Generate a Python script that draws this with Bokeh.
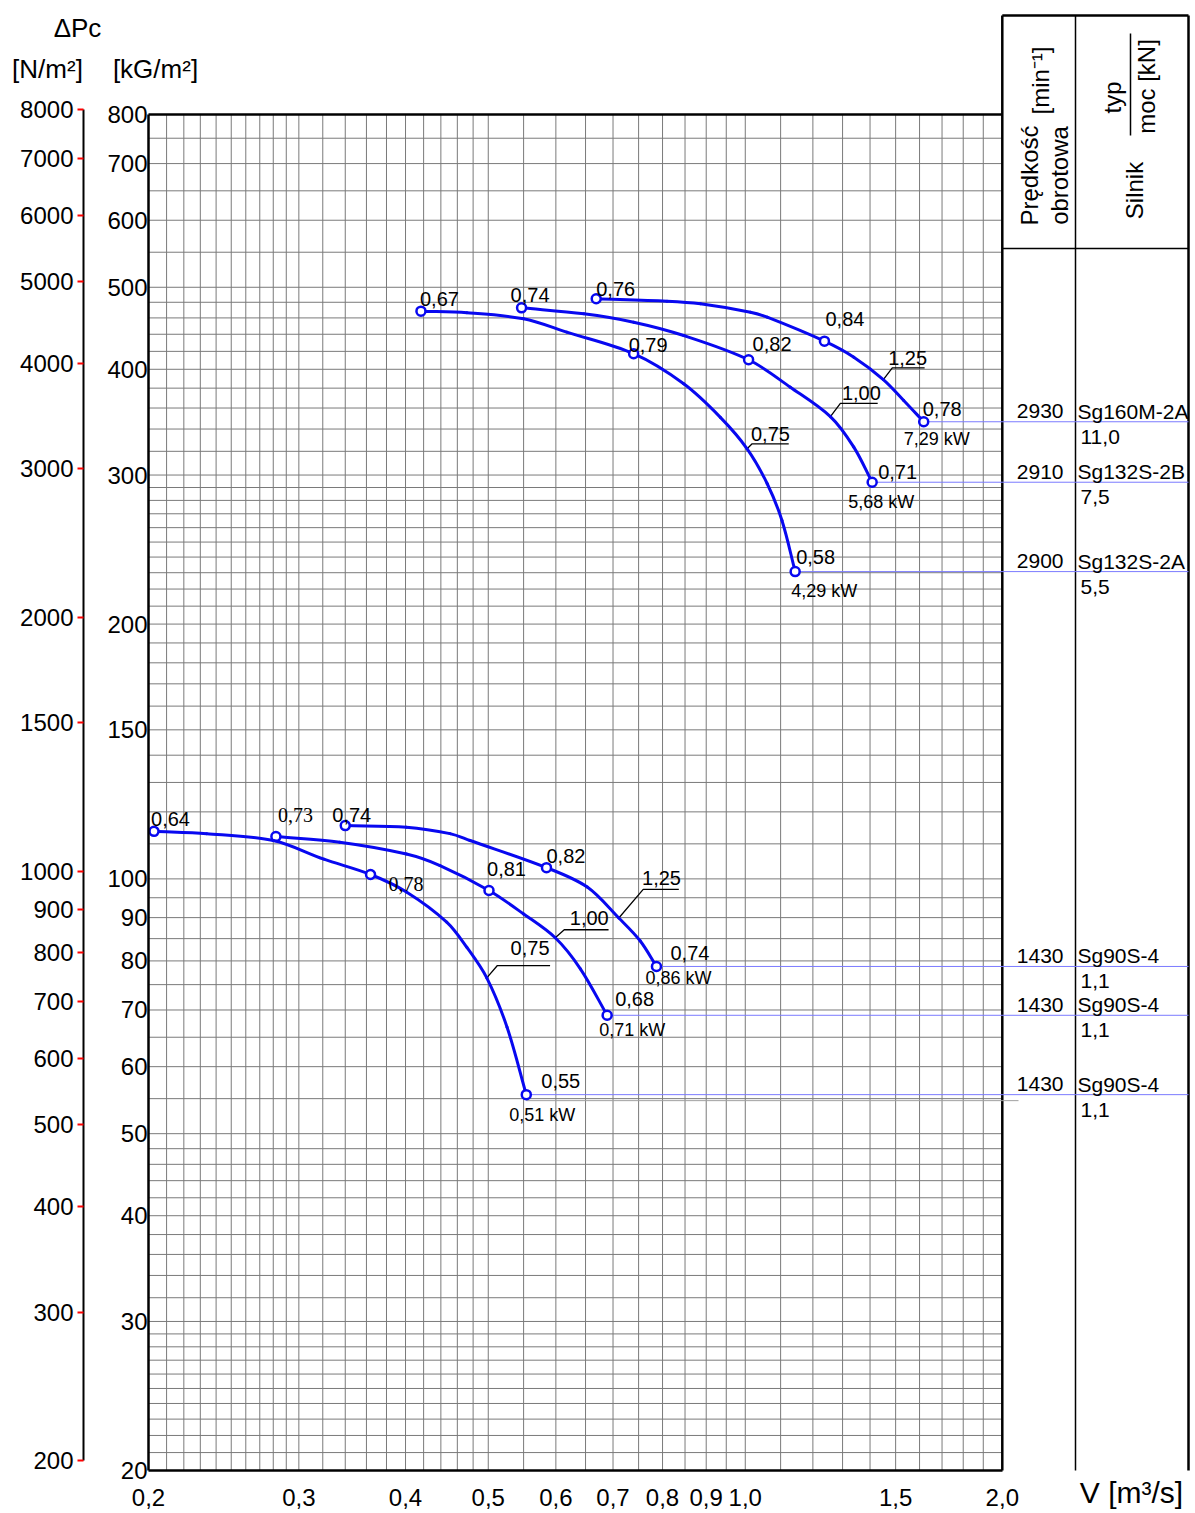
import math
from bokeh.plotting import figure
from bokeh.models import ColumnDataSource, LogAxis, FixedTicker, Range1d, LogScale
from bokeh.core.properties import value
from bokeh.embed import file_html
from bokeh.resources import INLINE

# ---------------- chart values (V [m3/s], dPc [kG/m2]) ----------------
V_2930 = [0.669, 0.810, 0.886, 1.014, 1.061, 1.238, 1.340, 1.451, 1.533, 1.618]
P_2930 = [484.6, 481.4, 478.0, 467.2, 460.9, 431.8, 413.4, 389.0, 367.5, 346.8]
V_2910 = [0.547, 0.647, 0.740, 0.847, 1.009, 1.129, 1.258, 1.340, 1.408]
P_2910 = [472.8, 465.2, 454.7, 438.5, 410.5, 381.0, 351.7, 323.7, 294.2]
V_2900 = [0.417, 0.472, 0.550, 0.618, 0.740, 0.847, 0.935, 1.005, 1.061, 1.104, 1.144]
P_2900 = [468.5, 466.5, 458.9, 442.5, 417.3, 384.5, 351.0, 322.2, 293.0, 265.1, 230.7]
V_1430_125 = [0.340, 0.401, 0.451, 0.476, 0.585, 0.653, 0.711, 0.753, 0.787]
P_1430_125 = [115.6, 115.1, 113.1, 111.0, 103.1, 97.8, 89.9, 84.5, 78.8]
V_1430_100 = [0.282, 0.335, 0.401, 0.439, 0.501, 0.550, 0.599, 0.641, 0.689]
P_1430_100 = [112.2, 110.5, 107.0, 103.7, 96.9, 90.9, 85.2, 78.3, 69.0]
V_1430_075 = [0.203, 0.234, 0.280, 0.321, 0.364, 0.401, 0.447, 0.472, 0.498, 0.526, 0.554]
P_1430_075 = [113.8, 113.1, 111.0, 105.5, 101.2, 96.5, 88.9, 83.0, 76.4, 66.8, 55.6]

CURVE_V = [V_2930, V_2910, V_2900, V_1430_125, V_1430_100, V_1430_075]
CURVE_P = [P_2930, P_2910, P_2900, P_1430_125, P_1430_100, P_1430_075]
MARK_IDX = [[0, 5, -1], [0, 4, -1], [0, 4, -1], [0, 4, -1], [0, 4, -1], [0, 4, -1]]
EFFICIENCY = [["0,76", "0,84", "0,78"], ["0,74", "0,82", "0,71"], ["0,67", "0,79", "0,58"],
              ["0,74", "0,82", "0,74"], ["0,73", "0,81", "0,68"], ["0,64", "0,78", "0,55"]]
SHAFT_KW = ["7,29 kW", "5,68 kW", "4,29 kW", "0,86 kW", "0,71 kW", "0,51 kW"]
WHEEL = ["1,25", "1,00", "0,75", "1,25", "1,00", "0,75"]
WHEEL_IDX = [7, 6, 7, 6, 6, 8]
RPM = ["2930", "2910", "2900", "1430", "1430", "1430"]
MOTOR = ["Sg160M-2A", "Sg132S-2B", "Sg132S-2A", "Sg90S-4", "Sg90S-4", "Sg90S-4"]
MOTOR_KW = ["11,0", "7,5", "5,5", "1,1", "1,1", "1,1"]

V_TICKS = [0.2, 0.3, 0.4, 0.5, 0.6, 0.7, 0.8, 0.9, 1.0, 1.5, 2.0]
V_LABELS = ["0,2", "0,3", "0,4", "0,5", "0,6", "0,7", "0,8", "0,9", "1,0", "1,5", "2,0"]
KG_TICKS = [20, 30, 40, 50, 60, 70, 80, 90, 100, 150, 200, 300, 400, 500, 600, 700, 800]
NM_TICKS = [200, 300, 400, 500, 600, 700, 800, 900, 1000, 1500, 2000, 3000, 4000, 5000, 6000, 7000, 8000]

GRID_V = [0.21, 0.22, 0.23, 0.24, 0.25, 0.26, 0.27, 0.28, 0.29, 0.30, 0.32, 0.34, 0.36, 0.38,
          0.40, 0.42, 0.44, 0.46, 0.48, 0.50, 0.55, 0.60, 0.65, 0.70, 0.75, 0.80, 0.85, 0.90,
          0.95, 1.0, 1.1, 1.2, 1.3, 1.4, 1.5, 1.6, 1.7, 1.8, 1.9]
GRID_P = [21, 22, 23, 24, 25, 26, 27, 28, 29, 30, 32, 34, 36, 38, 40, 42, 44, 46, 48, 50,
          55, 60, 65, 70, 75, 80, 85, 90, 95, 100, 110, 120, 130, 140, 150, 160, 170, 180, 190,
          200, 210, 220, 230, 240, 250, 260, 270, 280, 290, 300, 320, 340, 360, 380, 400, 420,
          440, 460, 480, 500, 550, 600, 650, 700, 750]

# ---------------- layout / style (pixel offsets, text centres) ----------------
EFF_OFF = [[(0, -10), (1, -22), (-1, -13)], [(-11, -13), (4, -16), (6, -10)],
           [(-1, -12), (-5, -9), (1, -15)], [(-13, -11), (0, -12), (14, -13)],
           [(2, -22), (-2, -21), (8, -16)], [(-3, -12), (18, 10), (15, -14)]]
EFF_SERIF = [[0, 0, 0], [0, 0, 0], [0, 0, 0], [0, 0, 0], [1, 0, 0], [0, 1, 0]]
KW_OFF = [(13, 17), (9, 20), (29, 19), (22, 12), (25, 15), (16, 20)]
# knee dx, knee dy, end dx, text dx, text dy (relative to the curve anchor, px)
LEAD = [(9, -11.7, 41.3, 24.3, -22.0), (10, -13.3, 47.3, 31, -24.0), (5, -5, 41.6, 23.3, -15.3),
        (24.4, -28.6, 60, 42.7, -40.3), (9, -8, 53.3, 34, -19.3), (10.6, -12.3, 63.3, 43.3, -30.0)]

SANS = "Liberation Sans"
SERIF = "Liberation Serif"
BLUE = "#0808f0"

W_CANVAS, H_CANVAS = 1195, 1511
X_DEC = 853.8                      # px per decade, V axis
Y_DEC = 1356.0 / math.log10(40.0)  # px per decade, kG/m2 axis
N_DEC = 843.1                      # px per decade, N/m2 axis


def xv(px):
    return 0.2 * 10 ** ((px - 148.0) / X_DEC)


def yv(py):
    return 20.0 * 10 ** ((1470.0 - py) / Y_DEC)


def nv(py):
    return 8000.0 * 10 ** ((109.3 - py) / N_DEC)


def xs(v, d):
    return v * 10 ** (d / X_DEC)


def ys(pv, d):
    return pv * 10 ** (-d / Y_DEC)


def smooth_segments(V, P):
    """Cubic Bezier pieces through the read points (chord-length tangents, screen space)."""
    u = [math.log10(v) * X_DEC for v in V]
    w = [math.log10(q) * Y_DEC for q in P]
    n = len(u)
    d = [math.hypot(u[i + 1] - u[i], w[i + 1] - w[i]) for i in range(n - 1)]
    mu, mw = [], []
    for i in range(n):
        if i == 0:
            a, b, L = 0, 1, d[0]
        elif i == n - 1:
            a, b, L = n - 2, n - 1, d[-1]
        else:
            a, b, L = i - 1, i + 1, d[i - 1] + d[i]
        mu.append((u[b] - u[a]) / L)
        mw.append((w[b] - w[a]) / L)
    out = dict(x0=[], y0=[], x1=[], y1=[], cx0=[], cy0=[], cx1=[], cy1=[])
    for i in range(n - 1):
        out["x0"].append(V[i]); out["y0"].append(P[i])
        out["x1"].append(V[i + 1]); out["y1"].append(P[i + 1])
        out["cx0"].append(10 ** ((u[i] + mu[i] * d[i] / 3) / X_DEC))
        out["cy0"].append(10 ** ((w[i] + mw[i] * d[i] / 3) / Y_DEC))
        out["cx1"].append(10 ** ((u[i + 1] - mu[i + 1] * d[i] / 3) / X_DEC))
        out["cy1"].append(10 ** ((w[i + 1] - mw[i + 1] * d[i] / 3) / Y_DEC))
    return out


p = figure(x_axis_type="log", y_axis_type="log",
           x_range=Range1d(xv(0), xv(W_CANVAS)), y_range=Range1d(yv(H_CANVAS), yv(0)),
           frame_width=W_CANVAS, frame_height=H_CANVAS, min_border=0,
           output_backend="svg", toolbar_location=None, title=None)
p.grid.visible = False
p.outline_line_color = None
p.background_fill_color = "white"
p.border_fill_color = "white"

p.extra_y_ranges = {"npa": Range1d(nv(H_CANVAS), nv(0))}
p.extra_y_scales = {"npa": LogScale()}

# bottom axis (frame bottom border)
xa = p.xaxis[0]
xa.fixed_location = 20
xa.ticker = FixedTicker(ticks=V_TICKS)
xa.major_label_overrides = {t: l for t, l in zip(V_TICKS, V_LABELS)}
xa.bounds = (0.2, 2.0)
xa.axis_line_color = "black"
xa.axis_line_width = 2.5
xa.major_tick_line_color = None
xa.minor_tick_line_color = None
xa.major_label_standoff = 12
xa.major_label_text_font = SANS
xa.major_label_text_font_size = "24px"
xa.major_label_text_color = "black"

# kG/m2 axis (frame left border)
ya = p.yaxis[0]
ya.fixed_location = 0.2
ya.ticker = FixedTicker(ticks=KG_TICKS)
ya.major_label_overrides = {t: str(t) for t in KG_TICKS}
ya.bounds = (20, 800)
ya.axis_line_color = "black"
ya.axis_line_width = 2.5
ya.major_tick_line_color = None
ya.minor_tick_line_color = None
ya.major_label_standoff = -5
ya.major_label_text_font = SANS
ya.major_label_text_font_size = "24px"
ya.major_label_text_color = "black"

# N/m2 axis
na = LogAxis(y_range_name="npa", ticker=FixedTicker(ticks=NM_TICKS), fixed_location=xv(83))
na.major_label_overrides = {t: str(t) for t in NM_TICKS}
na.bounds = (200, 8000)
na.axis_line_color = "black"
na.axis_line_width = 2
na.major_tick_line_color = "red"
na.major_tick_line_width = 2
na.major_tick_out = 6
na.major_tick_in = 0
na.minor_tick_line_color = None
na.major_label_standoff = 4
na.major_label_text_font = SANS
na.major_label_text_font_size = "24px"
na.major_label_text_color = "black"
p.add_layout(na, "left")

# grid
p.segment(x0=GRID_V, y0=[20] * len(GRID_V), x1=GRID_V, y1=[800] * len(GRID_V),
          line_color="#7a7a7a", line_width=1)
p.segment(x0=[0.2] * len(GRID_P), y0=GRID_P, x1=[2.0] * len(GRID_P), y1=GRID_P,
          line_color="#7a7a7a", line_width=1)

# frame + table lines
T_TOP = yv(15)
T_RIGHT = xv(1188)
T_COL = xv(1075)
p.segment(x0=[0.2, 2.0, 2.0, T_RIGHT, T_COL, 2.0],
          y0=[800, 20, T_TOP, T_TOP, T_TOP, yv(248)],
          x1=[2.0, 2.0, T_RIGHT, T_RIGHT, T_COL, T_RIGHT],
          y1=[800, T_TOP, T_TOP, 20, 20, yv(248)],
          line_color="black", line_width=[2.5, 2.5, 2.5, 2.5, 1.5, 1.5])
p.segment(x0=[xs(T_COL, 55)], y0=[yv(33)], x1=[xs(T_COL, 55)], y1=[yv(135)],
          line_color="black", line_width=1.5)
# short drafting line under the lowest row
p.segment(x0=[V_1430_075[-1]], y0=[ys(P_1430_075[-1], 6)], x1=[xv(1018)],
          y1=[ys(P_1430_075[-1], 6)], line_color="#a0a0a0", line_width=1)

# curves
for i in range(6):
    V, P = CURVE_V[i], CURVE_P[i]
    p.segment(x0=[V[-1]], y0=[P[-1]], x1=[T_RIGHT], y1=[P[-1]], line_color="#7b7bff", line_width=1)
    k = WHEEL_IDX[i]
    kdx, kdy, edx, tdx, tdy = LEAD[i]
    kx, ky, ex = xs(V[k], kdx), ys(P[k], kdy), xs(V[k], edx)
    p.line(x=[V[k], kx, ex], y=[P[k], ky, ky], line_color="black", line_width=1.3)
    p.text(x=[xs(V[k], tdx)], y=[ys(P[k], tdy)], text=[WHEEL[i]],
           text_font=value(SANS), text_font_size="20px", text_align="center",
           text_baseline="middle", text_color="black")
    bz = ColumnDataSource(smooth_segments(V, P))
    p.bezier(x0="x0", y0="y0", x1="x1", y1="y1", cx0="cx0", cy0="cy0", cx1="cx1", cy1="cy1",
             source=bz, line_color=BLUE, line_width=3, line_cap="round")
    mv = [V[j] for j in MARK_IDX[i]]
    mp = [P[j] for j in MARK_IDX[i]]
    p.scatter(x=mv, y=mp, marker="circle", size=9, line_color=BLUE, line_width=2.5,
              fill_color="white")
    src = ColumnDataSource(dict(
        x=[xs(mv[j], EFF_OFF[i][j][0]) for j in range(3)],
        y=[ys(mp[j], EFF_OFF[i][j][1]) for j in range(3)],
        t=EFFICIENCY[i],
        f=[SERIF if EFF_SERIF[i][j] else SANS for j in range(3)],
    ))
    p.text(x="x", y="y", text="t", source=src, text_font="f", text_font_size="20px",
           text_align="left", text_baseline="middle", text_color="black")
    p.text(x=[xs(V[-1], KW_OFF[i][0])], y=[ys(P[-1], KW_OFF[i][1])], text=[SHAFT_KW[i]],
           text_font=value(SANS), text_font_size="18px", text_align="center",
           text_baseline="middle", text_color="black")
    # table rows
    p.text(x=[xv(1063)], y=[ys(P[-1], -10.5)], text=[RPM[i]], text_font=value(SANS),
           text_font_size="21px", text_align="right", text_baseline="middle")
    p.text(x=[xv(1077)], y=[ys(P[-1], -10.5)], text=[MOTOR[i]], text_font=value(SANS),
           text_font_size="21px", text_align="left", text_baseline="middle")
    p.text(x=[xv(1080)], y=[ys(P[-1], 15)], text=[MOTOR_KW[i]], text_font=value(SANS),
           text_font_size="21px", text_align="left", text_baseline="middle")

# table header (rotated)
hdr = ColumnDataSource(dict(
    x=[xv(1029), xv(1059), xv(1040), xv(1134), xv(1112), xv(1146)],
    y=[yv(175), yv(175), yv(80), yv(190), yv(97), yv(86)],
    t=["Prędkość", "obrotowa", "[min⁻¹]", "Silnik", "typ", "moc [kN]"],
))
p.text(x="x", y="y", text="t", source=hdr, angle=math.pi / 2, text_font=value(SANS),
       text_font_size="24px", text_align="center", text_baseline="middle", text_color="black")

# unit / axis titles
ttl = ColumnDataSource(dict(
    x=[xv(77), xv(47), xv(155), xv(1131)],
    y=[yv(27), yv(68), yv(68), yv(1492)],
    t=["ΔPc", "[N/m²]", "[kG/m²]", "V [m³/s]"],
    s=["26px", "26px", "26px", "30px"],
))
p.text(x="x", y="y", text="t", source=ttl, text_font=value(SANS), text_font_size="s",
       text_align="center", text_baseline="middle", text_color="black")

open("out.html", "w").write(file_html(p, INLINE))
